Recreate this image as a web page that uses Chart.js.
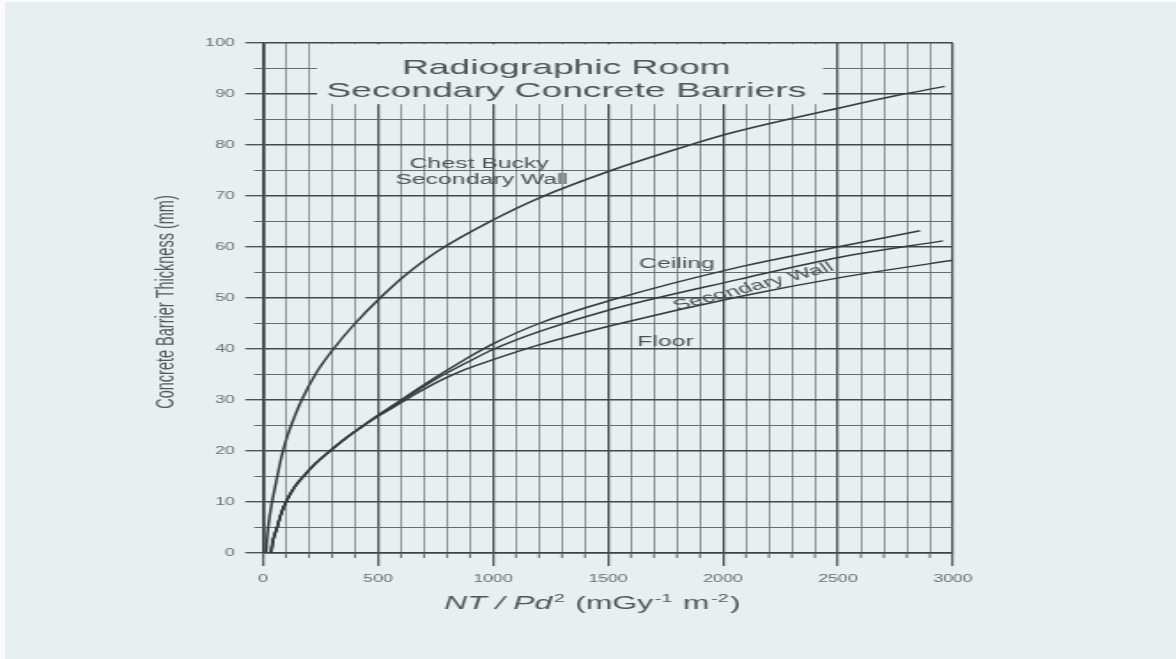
<!DOCTYPE html>
<html>
<head>
<meta charset="utf-8">
<script src="https://cdn.jsdelivr.net/npm/chart.js@4.4.1/dist/chart.umd.min.js"></script>
<style>
  html, body { margin: 0; padding: 0; width: 1176px; height: 659px; overflow: hidden; background: #e7eff1; }
  #wrap { position: absolute; left: 0; top: 0; width: 664px; height: 659px; transform: scaleX(1.7711); transform-origin: 0 0; }
  #c { width: 664px; height: 659px; display: block; }
  #edgeL { position: absolute; left: 0; top: 0; width: 5px; height: 659px; background: #fafcfc; }
  #edgeT { position: absolute; left: 0; top: 0; width: 1176px; height: 2px; background: #fafcfc; }
</style>
</head>
<body>
<div id="wrap"><canvas id="c" width="664" height="659"></canvas></div>
<div id="edgeL"></div>
<div id="edgeT"></div>
<script>
// ---- chart text ----
const titleLines = ['Radiographic Room', 'Secondary Concrete Barriers'];
const yAxisTitle = 'Concrete Barrier Thickness (mm)';
const seriesNames = ['Chest Bucky Secondary Wall', 'Ceiling', 'Secondary Wall', 'Floor'];

// ---- tick labels ----
const xTickLabels = [0, 500, 1000, 1500, 2000, 2500, 3000];
const yTickLabels = [0, 10, 20, 30, 40, 50, 60, 70, 80, 90, 100];

// ---- curves: NT/Pd² (x) vs concrete thickness in mm (y) ----
const buckyX = [14, 18, 25, 35, 48, 64, 81, 105, 135, 168, 230, 306, 400, 509, 620, 764, 1000, 1200, 1520, 1842, 2030, 2540, 2755, 2965];
const buckyY = [0, 3, 6, 9, 12, 15.5, 19, 22.8, 26.5, 30, 35.2, 40, 45, 50, 54.5, 59.3, 65.3, 69.6, 75.1, 79.8, 82.3, 87.6, 89.7, 91.5];

const ceilingX = [35, 42, 61, 78, 100, 135, 175, 230, 291, 360, 430, 500, 590, 680, 770, 880, 1000, 1200, 1516, 2074, 2509, 2857];
const ceilingY = [0, 2.2, 5, 7.6, 10, 12.8, 15, 17.6, 20, 22.5, 24.8, 27.0, 29.7, 32.4, 35.0, 38.0, 41.0, 45.0, 49.6, 56.1, 60.1, 63.2];

const wallX = [35, 42, 61, 78, 100, 135, 175, 230, 291, 360, 430, 500, 590, 680, 770, 880, 1000, 1200, 1516, 2074, 2509, 2957];
const wallY = [0, 2.2, 5, 7.6, 10, 12.8, 15, 17.6, 20, 22.5, 24.8, 26.9, 29.5, 32.1, 34.6, 37.2, 39.9, 43.4, 47.8, 53.7, 58.0, 61.2];

const floorX = [35, 42, 61, 78, 100, 135, 175, 230, 291, 360, 430, 500, 590, 680, 770, 880, 1000, 1200, 1516, 2074, 2509, 3000];
const floorY = [0, 2.2, 5, 7.6, 10, 12.8, 15, 17.6, 20, 22.5, 24.7, 26.8, 29.2, 31.6, 33.8, 36.0, 37.9, 40.8, 44.6, 50.3, 54.0, 57.4];

// ---- look ----
const FONT = '"Liberation Sans", Arial, Helvetica, sans-serif';
const PAPER = '#e7eff1';
const CURVE = '#383b3d';

const toPoints = (xs, ys) => xs.map((x, i) => ({ x, y: ys[i] }));
const isMajorX = v => v % 500 === 0;
const isMajorY = v => v % 10 === 0;

function curve(label, xs, ys) {
  return {
    label,
    data: toPoints(xs, ys),
    showLine: true,
    pointRadius: 0,
    borderColor: CURVE,
    borderWidth: 1.5,
    cubicInterpolationMode: 'monotone',
    fill: false
  };
}

// panel behind the heading, short minor ticks, heading and curve labels, axis titles
const sheetPlugin = {
  id: 'sheet',
  beforeDatasetsDraw(chart) {
    const { ctx, scales: { x, y } } = chart;
    ctx.save();
    // clear grid behind the heading
    const l = x.getPixelForValue(235), r = x.getPixelForValue(2435);
    const t = y.getPixelForValue(100) + 1.2, b = y.getPixelForValue(88);
    ctx.fillStyle = PAPER;
    ctx.fillRect(l, t, r - l, b - t);

    // short minor ticks
    ctx.strokeStyle = '#5f6669';
    ctx.lineWidth = 1;
    ctx.beginPath();
    x.ticks.forEach(tk => {
      if (!isMajorX(tk.value)) {
        const px = x.getPixelForValue(tk.value);
        ctx.moveTo(px, x.top); ctx.lineTo(px, x.top + 5);
      }
    });
    y.ticks.forEach(tk => {
      if (!isMajorY(tk.value)) {
        const py = y.getPixelForValue(tk.value);
        ctx.moveTo(y.right - 5, py); ctx.lineTo(y.right, py);
      }
    });
    ctx.stroke();

    // heading
    ctx.fillStyle = '#505456';
    ctx.font = '21px ' + FONT;
    ctx.textAlign = 'center';
    ctx.textBaseline = 'alphabetic';
    const hx = x.getPixelForValue(1319);
    ctx.fillText(titleLines[0], hx, y.getPixelForValue(94.0));
    ctx.fillText(titleLines[1], hx, y.getPixelForValue(89.4));
    ctx.restore();
  },
  afterDatasetsDraw(chart) {
    const { ctx, scales: { x, y } } = chart;
    ctx.save();
    ctx.fillStyle = '#4e5254';
    ctx.font = '14px ' + FONT;
    ctx.textAlign = 'center';
    ctx.textBaseline = 'alphabetic';
    ctx.fillText('Chest Bucky', x.getPixelForValue(940), y.getPixelForValue(75.4));
    ctx.fillText('Secondary Wall', x.getPixelForValue(951), y.getPixelForValue(72.45));
    ctx.fillText(seriesNames[1], x.getPixelForValue(1800), y.getPixelForValue(55.9));
    ctx.fillText(seriesNames[3], x.getPixelForValue(1750), y.getPixelForValue(40.6));

    // label laid along the secondary wall curve
    ctx.save();
    ctx.translate(x.getPixelForValue(2133), y.getPixelForValue(52.2));
    ctx.rotate(-24.3 * Math.PI / 180);
    ctx.textBaseline = 'middle';
    ctx.fillText(seriesNames[2], 0, 0);
    ctx.restore();

    // y axis title
    ctx.save();
    ctx.translate(x.left - 54.7, 302);
    ctx.rotate(-Math.PI / 2);
    ctx.font = '14.5px ' + FONT;
    ctx.fillStyle = '#55595b';
    ctx.textBaseline = 'middle';
    ctx.fillText(yAxisTitle, 0, 0);
    ctx.restore();

    // x axis title: NT / Pd² (mGy⁻¹ m⁻²)
    const base = 609;
    const parts = [
      { t: 'NT / Pd', f: 'italic 18px ' + FONT, dy: 0 },
      { t: '2', f: '11px ' + FONT, dy: -7 },
      { t: ' (mGy', f: '18px ' + FONT, dy: 0 },
      { t: '-1', f: '11px ' + FONT, dy: -7 },
      { t: ' m', f: '18px ' + FONT, dy: 0 },
      { t: '-2', f: '11px ' + FONT, dy: -7 },
      { t: ')', f: '18px ' + FONT, dy: 0 }
    ];
    ctx.textAlign = 'left';
    ctx.fillStyle = '#505456';
    let total = 0;
    parts.forEach(p => { ctx.font = p.f; p.w = ctx.measureText(p.t).width + (p.dy ? 2 : 0); total += p.w; });
    let cx = 334.5 - total / 2;
    parts.forEach(p => {
      ctx.font = p.f;
      ctx.fillText(p.t, cx + (p.dy ? 1 : 0), base + p.dy);
      cx += p.w;
    });
    ctx.restore();
  }
};

new Chart(document.getElementById('c'), {
  type: 'scatter',
  data: {
    datasets: [
      curve(seriesNames[0], buckyX, buckyY),
      curve(seriesNames[1], ceilingX, ceilingY),
      curve(seriesNames[2], wallX, wallY),
      curve(seriesNames[3], floorX, floorY)
    ]
  },
  options: {
    responsive: false,
    devicePixelRatio: 1,
    animation: false,
    events: [],
    layout: { padding: { left: 0, top: 43, right: 126, bottom: 0 } },
    plugins: { legend: { display: false }, tooltip: { enabled: false }, title: { display: false } },
    scales: {
      x: {
        type: 'linear',
        min: 0,
        max: 3000,
        afterFit(s) { s.height = 106; s.paddingLeft = 0; s.paddingRight = 0; },
        ticks: {
          stepSize: 100,
          autoSkip: false,
          maxRotation: 0,
          minRotation: 0,
          padding: 7,
          color: '#6a6e70',
          font: { family: FONT, size: 10 },
          callback: v => (xTickLabels.includes(v) ? String(v) : '')
        },
        grid: {
          color: c => (c.tick && isMajorX(c.tick.value) ? '#4b5154' : '#7d8588'),
          lineWidth: c => (c.tick && isMajorX(c.tick.value) ? 1.3 : 0.85),
          tickLength: 13,
          tickColor: c => (c.tick && isMajorX(c.tick.value) ? '#4b5154' : 'rgba(0,0,0,0)'),
          tickWidth: 1.2
        },
        border: { display: true, color: '#3e4346', width: 1.4 }
      },
      y: {
        type: 'linear',
        min: 0,
        max: 100,
        afterFit(s) { s.width = 148.5; s.paddingTop = 0; s.paddingBottom = 0; },
        ticks: {
          stepSize: 5,
          autoSkip: false,
          padding: 6,
          color: '#6a6e70',
          font: { family: FONT, size: 10 },
          callback: v => (yTickLabels.includes(v) ? String(v) : '')
        },
        grid: {
          color: c => (c.tick && isMajorY(c.tick.value) ? '#43484b' : '#666d70'),
          lineWidth: c => (c.tick && isMajorY(c.tick.value) ? 1.4 : 1.0),
          tickLength: 10,
          tickColor: c => (c.tick && isMajorY(c.tick.value) ? '#43484b' : 'rgba(0,0,0,0)'),
          tickWidth: 1.3
        },
        border: { display: true, color: '#3a3f42', width: 1.7 }
      }
    }
  },
  plugins: [sheetPlugin]
});
</script>
</body>
</html>
